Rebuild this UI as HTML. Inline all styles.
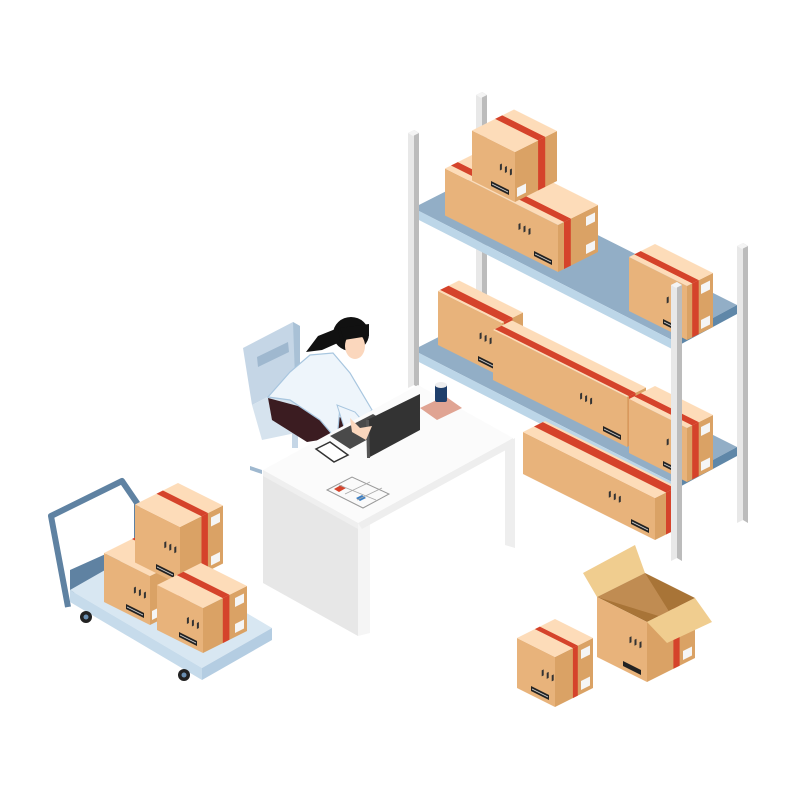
<!DOCTYPE html>
<html><head><meta charset="utf-8"><style>html,body{margin:0;padding:0;background:#fff;width:800px;height:800px;overflow:hidden}</style></head>
<body>
<svg id="s" width="800" height="800" viewBox="0 0 800 800" xmlns="http://www.w3.org/2000/svg"></svg>
<script>
const S=document.getElementById('s');
function poly(pts,fill,extra){const e=document.createElementNS('http://www.w3.org/2000/svg','polygon');e.setAttribute('points',pts.map(p=>p[0].toFixed(1)+','+p[1].toFixed(1)).join(' '));e.setAttribute('fill',fill);if(extra)for(const k in extra)e.setAttribute(k,extra[k]);S.appendChild(e);return e;}
function el(tag,attrs){const e=document.createElementNS('http://www.w3.org/2000/svg',tag);for(const k in attrs)e.setAttribute(k,attrs[k]);S.appendChild(e);return e;}
function post(x,y1,y2){poly([[x,y1],[x+6,y1-3],[x+6,y2],[x,y2+3]],'#e8e8e8');poly([[x+6,y1-3],[x+11,y1],[x+11,y2+3],[x+6,y2]],'#bcbcbc');poly([[x,y1],[x+6,y1-3],[x+11,y1],[x+5,y1+3]],'#f4f4f4');}
function shelf(dy){
 const L=[413,208+dy],B=[478,175+dy],R=[737,305+dy],F=[672,340+dy];
 poly([L,B,R,F],'#92aec6');
 poly([L,F,[F[0],F[1]+9],[L[0],L[1]+9]],'#bcd6e8');
 poly([F,R,[R[0],R[1]+9],[F[0],F[1]+9]],'#5f87a8');
}
function box(x,y,a,b,h,t1,t2){
 const Q=(l,r,u)=>[x-l+r,y-l/2-r/2-u];
 poly([Q(0,0,0),Q(a,0,0),Q(a,0,h),Q(0,0,h)],'#e8b37b');
 poly([Q(0,0,0),Q(0,b,0),Q(0,b,h),Q(0,0,h)],'#daa265');
 poly([Q(0,0,h),Q(a,0,h),Q(a,b,h),Q(0,b,h)],'#fddcb9');
 const r1=b*t1,r2=b*t2;
 poly([Q(0,r1,h),Q(a,r1,h),Q(a,r2,h),Q(0,r2,h)],'#d5432b');
 poly([Q(0,r1,0),Q(0,r2,0),Q(0,r2,h),Q(0,r1,h)],'#d5432b');
 // barcode on left face near front bottom
 poly([Q(6,0,4),Q(24,0,4),Q(24,0,9),Q(6,0,9)],'#222');
 poly([Q(7,0,6),Q(23,0,6),Q(23,0,7),Q(7,0,7)],'#ccc');
 // labels on right face
 if(b-r2>12){poly([Q(0,b-12,h-15),Q(0,b-3,h-15),Q(0,b-3,h-6),Q(0,b-12,h-6)],'#f5f5f5');
   poly([Q(0,b-12,4),Q(0,b-3,4),Q(0,b-3,13),Q(0,b-12,13)],'#f5f5f5');}
 else if(r1>12){poly([Q(0,2,4),Q(0,11,4),Q(0,11,13),Q(0,2,13)],'#f5f5f5');}
 // symbols
 for(let i=0;i<3;i++){const p=Q(a*0.35-i*5,0,h*0.6);poly([[p[0],p[1]],[p[0]+2,p[1]-1],[p[0]+2,p[1]+5],[p[0],p[1]+6]],'#333');}
}
post(476,95,360);post(737,246,520);
shelf(0);
box(558,272,113,40,47,0.15,0.32);
box(515,202,43,42,50,0.55,0.72);
box(687,340,58,26,54,0.2,0.45);
shelf(142);
box(655,540,132,22,42,0.5,0.9);
box(502,377,64,21,54,0.1,0.5);
box(627,447,134,19,50,0.1,0.45);
box(687,482,58,26,54,0.2,0.45);
post(408,133,385);post(671,285,558);

// chair
poly([[243,348],[293,322],[300,326],[300,380],[252,405]],'#c5d6e6');
poly([[293,322],[300,326],[300,380],[295,378]],'#a9c1d6');
poly([[257,357],[288,342],[289,352],[258,367]],'#9fb8cf');
poly([[252,405],[300,380],[310,430],[262,440]],'#d6e3ee');
poly([[292,430],[298,430],[298,448],[292,448]],'#c5d6e6');
poly([[250,466],[262,470],[262,474],[250,470]],'#9fb8cf');
// person
poly([[268,398],[350,420],[332,438],[307,442],[272,420]],'#3b1c21');
poly([[268,397],[290,372],[310,355],[333,353],[350,373],[372,410],[362,420],[340,407],[337,440],[320,420],[290,400]],'#eef5fb',{stroke:'#a8c6df','stroke-width':1.2});
poly([[337,405],[345,430],[365,440],[372,432],[355,412]],'#eef5fb',{stroke:'#a8c6df','stroke-width':1});
el('ellipse',{cx:351,cy:334,rx:18,ry:17,fill:'#111'});
poly([[338,328],[318,336],[306,352],[322,350],[340,342]],'#111');
el('ellipse',{cx:355,cy:346,rx:10,ry:13,fill:'#fbd7bd'});
poly([[340,328],[369,324],[369,336],[344,340]],'#111');

// desk
poly([[263,470],[358,523],[358,636],[263,583]],'#e7e7e7');
poly([[358,523],[370,517],[370,633],[358,636]],'#f5f5f5');
poly([[505,444],[515,438],[515,548],[505,545]],'#eeeeee');
poly([[358,523],[513,438],[513,446],[362,529]],'#eeeeee');
poly([[263,470],[418,385],[513,438],[358,523]],'#fbfbfb');
poly([[263,470],[358,523],[358,529],[263,476]],'#efefef');
// laptop
poly([[330,436],[373,414],[392,426],[350,449]],'#4a4a4a');
poly([[367,420],[420,394],[420,430],[368,458]],'#333');
poly([[366,420],[369,420],[370,458],[367,458]],'#555');
poly([[350,418],[360,428],[372,426],[366,440],[352,432]],'#fbd7bd');
// cup & mat
poly([[420,408],[445,396],[462,408],[437,420]],'#e0a493');
el('rect',{x:435,y:384,width:12,height:18,fill:'#1f3f6b',rx:2});
el('ellipse',{cx:441,cy:385,rx:6,ry:3,fill:'#eee'});
// phone
poly([[316,449],[330,442],[348,455],[334,462]],'#fff',{stroke:'#333','stroke-width':1.5});
// calendar
poly([[327,490],[352,477],[389,494],[363,508]],'#fafafa',{stroke:'#999','stroke-width':1});
poly([[334,489],[341,485],[346,488],[339,492]],'#d5432b');
poly([[356,498],[362,495],[366,498],[360,501]],'#3b7fc4');
el('line',{x1:339,y1:485,x2:376,y2:500,stroke:'#aaa','stroke-width':0.8});
el('line',{x1:345,y1:494,x2:370,y2:482,stroke:'#aaa','stroke-width':0.8});
el('line',{x1:357,y1:500,x2:382,y2:488,stroke:'#aaa','stroke-width':0.8});

// cart
el('polyline',{points:'68,607 51,516 122,481 137,503 137,545',fill:'none',stroke:'#5f82a2','stroke-width':6,'stroke-linejoin':'round'});
poly([[70,570],[137,540],[137,560],[70,595]],'#5f82a2');
poly([[70,590],[140,550],[272,628],[202,668]],'#d8e7f2');
poly([[70,590],[202,668],[202,680],[70,602]],'#c6dbeb');
poly([[202,668],[272,628],[272,640],[202,680]],'#b4cde2');
el('circle',{cx:86,cy:617,r:6,fill:'#222'});el('circle',{cx:86,cy:617,r:2.5,fill:'#6a8fb2'});
el('circle',{cx:184,cy:675,r:6,fill:'#222'});el('circle',{cx:184,cy:675,r:2.5,fill:'#6a8fb2'});
box(150,625,46,40,49,0.7,0.85);
box(180,585,45,43,58,0.5,0.65);
box(203,653,46,44,45,0.45,0.6);

box(555,707,38,38,50,0.47,0.6);
(function(){const x=647,y=682,a=50,b=48,h=60;const Q=(l,r,u)=>[x-l+r,y-l/2-r/2-u];
 poly([Q(0,0,h),Q(a,0,h),Q(a,b,h),Q(0,b,h)],'#a87437');
 poly([Q(a,0,h),Q(a,b,h),Q(a*0.4,b,h*0.45)],'#c08c52');
 poly([Q(0,0,0),Q(a,0,0),Q(a,0,h),Q(0,0,h)],'#e8b37b');
 poly([Q(0,0,0),Q(0,b,0),Q(0,b,h),Q(0,0,h)],'#daa265');
 poly([Q(0,b*0.55,0),Q(0,b*0.68,0),Q(0,b*0.68,h),Q(0,b*0.55,h)],'#d5432b');
 poly([Q(6,0,4),Q(24,0,4),Q(24,0,9),Q(6,0,9)],'#222');
 poly([Q(0,b-12,4),Q(0,b-3,4),Q(0,b-3,13),Q(0,b-12,13)],'#f5f5f5');
 for(let i=0;i<3;i++){const p=Q(a*0.35-i*5,0,h*0.6);poly([[p[0],p[1]],[p[0]+2,p[1]-1],[p[0]+2,p[1]+5],[p[0],p[1]+6]],'#333');}
 poly([[597,597],[645,573],[635,545],[583,573]],'#f0cd8f');
 poly([[647,622],[695,598],[712,622],[667,643]],'#f0cd8f');
})();
</script>
</body></html>
